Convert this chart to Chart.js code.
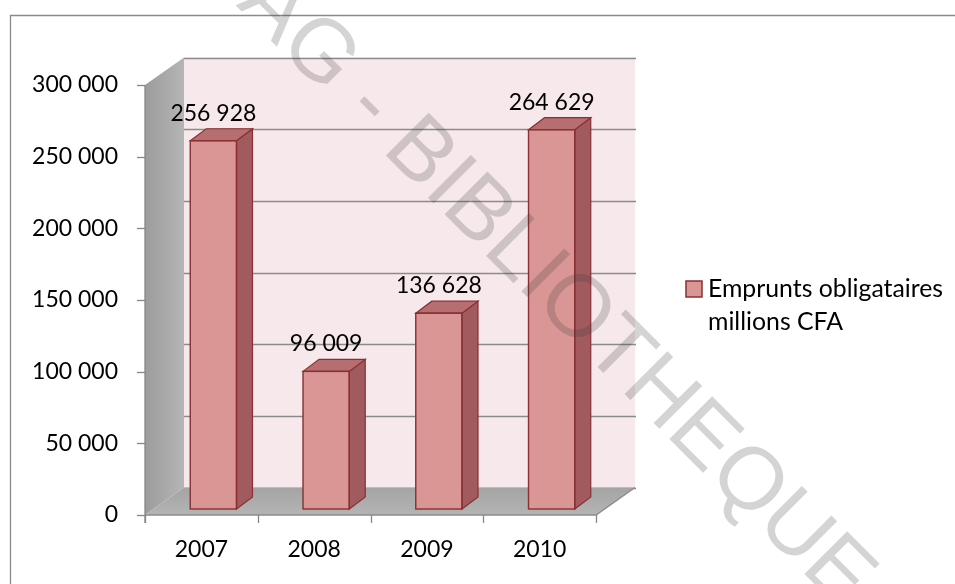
<!DOCTYPE html>
<html><head><meta charset="utf-8">
<script src="https://cdn.jsdelivr.net/npm/chart.js@4.4.1/dist/chart.umd.min.js"></script>
<style>html,body{margin:0;padding:0;background:#fff;overflow:hidden}#wrap{width:955px;height:584px;position:relative}</style>
</head><body><div id="wrap"><canvas id="c" width="955" height="584"></canvas></div>
<script>
// ---- data ----
const categories = ['2007', '2008', '2009', '2010'];
const values = [256928, 96009, 136628, 264629];
const seriesLabel = ['Emprunts obligataires', 'millions CFA'];
const yMin = 0, yMax = 300000, yStep = 50000;
const watermark = 'CESAG - BIBLIOTHEQUE';

// ---- styling ----
const FONT = 'Lato';
const FS = 23;
const FRONT = {dx: -12, dy: 6};     // front plane offset from the bar plane
const BACK = {dx: 27, dy: -21.5};   // back wall offset from the bar plane
const BAR_DEPTH = {dx: 16, dy: -12};
const fmt = v => String(Math.round(v)).replace(/\B(?=(\d{3})+(?!\d))/g, ' ');

function poly(ctx, pts, fill, stroke, lw) {
  ctx.beginPath();
  ctx.moveTo(pts[0][0], pts[0][1]);
  for (let i = 1; i < pts.length; i++) ctx.lineTo(pts[i][0], pts[i][1]);
  ctx.closePath();
  if (fill) { ctx.fillStyle = fill; ctx.fill(); }
  if (stroke) { ctx.strokeStyle = stroke; ctx.lineWidth = lw || 1; ctx.stroke(); }
}

const walls = {
  id: 'walls',
  beforeDatasetsDraw(chart) {
    const ctx = chart.ctx, ca = chart.chartArea, ys = chart.scales.y;
    const y0 = ys.getPixelForValue(yMin), yT = ys.getPixelForValue(yMax);
    const L = ca.left, R = ca.right;
    ctx.save();
    // back wall
    poly(ctx, [[L + BACK.dx, yT + BACK.dy], [R + BACK.dx, yT + BACK.dy], [R + BACK.dx, y0 + BACK.dy], [L + BACK.dx, y0 + BACK.dy]], '#f7e9eb');
    // side wall
    const g = ctx.createLinearGradient(L + FRONT.dx, 0, L + BACK.dx, 0);
    g.addColorStop(0, '#9c9c9c'); g.addColorStop(1, '#b5b5b5');
    poly(ctx, [[L + FRONT.dx, yT + FRONT.dy], [L + BACK.dx, yT + BACK.dy], [L + BACK.dx, y0 + BACK.dy], [L + FRONT.dx, y0 + FRONT.dy]], g);
    // gridlines on back wall
    ctx.strokeStyle = '#8a8a8a'; ctx.lineWidth = 1.3;
    for (let v = yMin; v <= yMax; v += yStep) {
      const y = Math.round(ys.getPixelForValue(v) + BACK.dy) + 0.5;
      ctx.beginPath(); ctx.moveTo(L + BACK.dx, y); ctx.lineTo(R + BACK.dx + 1, y); ctx.stroke();
    }
    // floor
    const fg = ctx.createLinearGradient(0, y0 + BACK.dy, 0, y0 + FRONT.dy);
    fg.addColorStop(0, '#a4a4a4'); fg.addColorStop(1, '#b4b4b4');
    poly(ctx, [[L + FRONT.dx, y0 + FRONT.dy], [R + FRONT.dx, y0 + FRONT.dy], [R + BACK.dx, y0 + BACK.dy], [L + BACK.dx, y0 + BACK.dy]], fg);
    // floor front / right edges
    ctx.strokeStyle = '#8c8c8c'; ctx.lineWidth = 1.5;
    ctx.beginPath();
    ctx.moveTo(L + FRONT.dx, y0 + FRONT.dy); ctx.lineTo(R + FRONT.dx, y0 + FRONT.dy); ctx.lineTo(R + BACK.dx, y0 + BACK.dy);
    ctx.stroke();
    // y axis ticks (front plane)
    ctx.strokeStyle = '#868686'; ctx.lineWidth = 1.3;
    for (let v = yMin; v <= yMax; v += yStep) {
      const y = Math.round(ys.getPixelForValue(v) + FRONT.dy) + 0.5;
      ctx.beginPath(); ctx.moveTo(L + FRONT.dx - 8, y); ctx.lineTo(L + FRONT.dx, y); ctx.stroke();
    }
    // vertical front edge of side wall
    ctx.beginPath(); ctx.moveTo(L + FRONT.dx, yT + FRONT.dy); ctx.lineTo(L + FRONT.dx, y0 + FRONT.dy + 8); ctx.stroke();
    // x axis ticks (category boundaries)
    const n = categories.length;
    for (let i = 0; i <= n; i++) {
      const x = Math.round(L + (R - L) * i / n + FRONT.dx) + 0.5;
      ctx.beginPath(); ctx.moveTo(x, y0 + FRONT.dy); ctx.lineTo(x, y0 + FRONT.dy + 8); ctx.stroke();
    }
    ctx.restore();
  }
};

const overlay = {
  id: 'overlay',
  afterDatasetsDraw(chart) {
    const ctx = chart.ctx;
    const meta = chart.getDatasetMeta(0);
    ctx.save();
    meta.data.forEach((bar, i) => {
      const w = bar.width, l = bar.x - w / 2, r = bar.x + w / 2, t = bar.y, b = bar.base;
      const d = BAR_DEPTH;
      poly(ctx, [[r, t], [r + d.dx, t + d.dy], [r + d.dx, b + d.dy], [r, b]], '#a15b5e', '#8a2f33', 1.2);
      poly(ctx, [[l, t], [l + d.dx, t + d.dy], [r + d.dx, t + d.dy], [r, t]], '#b66e71', '#8a2f33', 1.2);
      ctx.strokeStyle = '#8a2f33'; ctx.lineWidth = 1.4;
      ctx.strokeRect(l, t, w, b - t);
      // value label
      ctx.fillStyle = '#000';
      ctx.font = FS + 'px ' + FONT;
      ctx.textAlign = 'center'; ctx.textBaseline = 'alphabetic';
      ctx.fillText(fmt(values[i]), bar.x, t - 20);
    });
    ctx.restore();
  },
  afterDraw(chart) {
    const ctx = chart.ctx;
    const ds = chart.data.datasets[0];
    ctx.save();
    // outer chart border
    ctx.strokeStyle = '#8a8a8a'; ctx.lineWidth = 1.3;
    ctx.beginPath(); ctx.moveTo(10.5, 600); ctx.lineTo(10.5, 15.5); ctx.lineTo(960, 15.5); ctx.stroke();
    // legend
    ctx.fillStyle = ds.backgroundColor; ctx.fillRect(686, 281, 16, 16);
    ctx.strokeStyle = ds.borderColor; ctx.lineWidth = 1.5; ctx.strokeRect(686, 281, 16, 16);
    ctx.fillStyle = '#000'; ctx.font = '24.8px ' + FONT; ctx.textAlign = 'left'; ctx.textBaseline = 'alphabetic';
    const lbl = Array.isArray(ds.label) ? ds.label : [ds.label];
    lbl.forEach((s, k) => ctx.fillText(s, 708, 297 + k * 33));
    // watermark
    ctx.font = '88px "Liberation Sans"';
    ctx.translate(368, 108);
    ctx.rotate(45 * Math.PI / 180);
    const pre = watermark.indexOf('-');
    const w1 = ctx.measureText(watermark.slice(0, pre)).width;
    const wh = ctx.measureText('-').width;
    ctx.fillStyle = 'rgba(60,60,60,0.22)';
    ctx.fillText(watermark, -(w1 + wh / 2), 21);
    ctx.restore();
  }
};

new Chart(document.getElementById('c'), {
  type: 'bar',
  data: {
    labels: categories,
    datasets: [{
      label: seriesLabel,
      data: values,
      backgroundColor: '#d99694',
      borderColor: '#8a2f33',
      borderWidth: 0,
      barPercentage: 0.41,
      categoryPercentage: 1
    }]
  },
  options: {
    responsive: false,
    animation: false,
    layout: {padding: {left: 0, top: 79, right: 347, bottom: 0}},
    plugins: {legend: {display: false}, tooltip: {enabled: false}},
    scales: {
      x: {
        grid: {display: false, drawTicks: false},
        border: {display: false},
        ticks: {font: {family: FONT, size: FS}, color: '#000', padding: 27, labelOffset: FRONT.dx},
        afterFit(s) { s.height = 75; }
      },
      y: {
        min: yMin, max: yMax,
        grid: {display: false, drawTicks: false},
        border: {display: false},
        ticks: {stepSize: yStep, font: {family: FONT, size: FS}, color: '#000', padding: 39, labelOffset: FRONT.dy, callback: v => fmt(v)},
        afterFit(s) { s.width = 157; }
      }
    }
  },
  plugins: [walls, overlay]
});
</script></body></html>
